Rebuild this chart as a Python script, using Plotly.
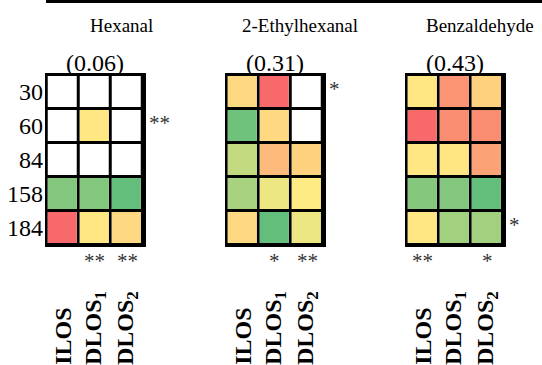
import plotly.graph_objects as go

W, H = 542, 365

compounds = ["Hexanal", "2-Ethylhexanal", "Benzaldehyde"]
pvalues = ["(0.06)", "(0.31)", "(0.43)"]
rows = ["30", "60", "84", "158", "184"]
cols = ["ILOS", "DLOS1", "DLOS2"]
col_labels = ["ILOS", "DLOS<sub>1</sub>", "DLOS<sub>2</sub>"]

# colour-scale scores (0 = red, 0.5 = yellow, 1 = green); None = blank cell
hexanal = [[None, None, None], [None, 0.49, None], [None, None, None], [0.90, 0.90, 1.0], [0.0, 0.49, 0.43]]
ethylhexanal = [[0.43, 0.0, None], [0.96, 0.43, None], [0.69, 0.31, 0.40], [0.78, 0.56, 0.50], [0.43, 1.0, 0.56]]
benzaldehyde = [[0.49, 0.165, 0.40], [0.0, 0.14, 0.135], [0.49, 0.48, 0.22], [0.89, 0.90, 1.0], [0.49, 0.80, 0.80]]
values = [hexanal, ethylhexanal, benzaldehyde]

bottom_stars = [["", "**", "**"], ["", "*", "**"], ["**", "", "*"]]
side_stars = [("60", "**"), ("30", "*"), ("184", "*")]

FONT = "Liberation Serif"
colorscale = [[0, "#F8696B"], [0.5, "#FFEB84"], [1, "#63BE7B"]]

grid_left = [46.7, 226.7, 406.7]
grid_w = 97.3
grid_top, grid_bot = 75, 245
title_cx = [121, 300, 480]
label_cy = [336, 328, 328]

def px(x):
    return x / W

def py(y):
    return 1 - y / H

fig = go.Figure()
annotations = []
for i, (name, z) in enumerate(zip(compounds, values)):
    sfx = "" if i == 0 else str(i + 1)
    xa, ya = "x" + sfx, "y" + sfx
    white = [[0 for _ in cols] for _ in rows]
    fig.add_trace(go.Heatmap(x=cols, y=rows, z=white, xaxis=xa, yaxis=ya,
                             colorscale=[[0, "white"], [1, "white"]], showscale=False,
                             xgap=3, ygap=3, hoverinfo="skip"))
    fig.add_trace(go.Heatmap(x=cols, y=rows, z=z, xaxis=xa, yaxis=ya,
                             colorscale=colorscale, zmin=0, zmax=1, showscale=False,
                             xgap=3, ygap=3))
    dom_x = [px(grid_left[i]), px(grid_left[i] + grid_w)]
    dom_y = [py(grid_bot), py(grid_top)]
    fig.layout["xaxis" + sfx] = dict(domain=dom_x, anchor=ya, type="category",
                                     showticklabels=False, ticks="",
                                     showgrid=False, zeroline=False, showline=True, mirror=True,
                                     linecolor="black", linewidth=2)
    fig.layout["yaxis" + sfx] = dict(domain=dom_y, anchor=xa, type="category", autorange="reversed",
                                     showticklabels=(i == 0), ticks="", showgrid=False,
                                     zeroline=False, showline=True, mirror=True,
                                     linecolor="black", linewidth=2, ticklabelstandoff=-3,
                                     tickfont=dict(family=FONT, size=24, color="black"))
    annotations.append(dict(text=name, xref="paper", yref="paper", x=px(title_cx[i]), y=py(25),
                            xanchor="center", yanchor="middle",
                            showarrow=False, font=dict(family=FONT, size=19, color="black")))
    annotations.append(dict(text=pvalues[i], xref=xa, yref="paper", x=1, y=py(63),
                            xanchor="center", yanchor="middle",
                            showarrow=False, font=dict(family=FONT, size=24, color="black")))
    for c, lab in enumerate(col_labels):
        annotations.append(dict(text="<b>" + lab + "</b>", xref=xa, yref="paper", x=c,
                                y=py(label_cy[c]), xanchor="center", yanchor="middle",
                                textangle=-90, showarrow=False,
                                font=dict(family=FONT, size=24, color="black")))
        if bottom_stars[i][c]:
            annotations.append(dict(text=bottom_stars[i][c], xref=xa, yref="paper", x=c, y=py(261),
                                    xanchor="center", yanchor="middle",
                                    showarrow=False, font=dict(family=FONT, size=21, color="#333")))
    r, s = side_stars[i]
    annotations.append(dict(text=s, xref="paper", yref=ya, x=px(grid_left[i] + grid_w + 3),
                            y=rows.index(r), xanchor="left", yanchor="middle", yshift=3,
                            showarrow=False, font=dict(family=FONT, size=21, color="#333")))

fig.update_layout(
    width=W, height=H, margin=dict(l=0, r=0, t=0, b=0),
    paper_bgcolor="white", plot_bgcolor="black", showlegend=False,
    annotations=annotations,
    shapes=[dict(type="rect", xref="paper", yref="paper", x0=px(47.5), x1=1.02, y0=py(1.5), y1=1.1,
                 line=dict(color="black", width=3))],
)
fig.write_html("out.html", config={"displayModeBar": False},
               post_script="document.body.style.margin='0';")
